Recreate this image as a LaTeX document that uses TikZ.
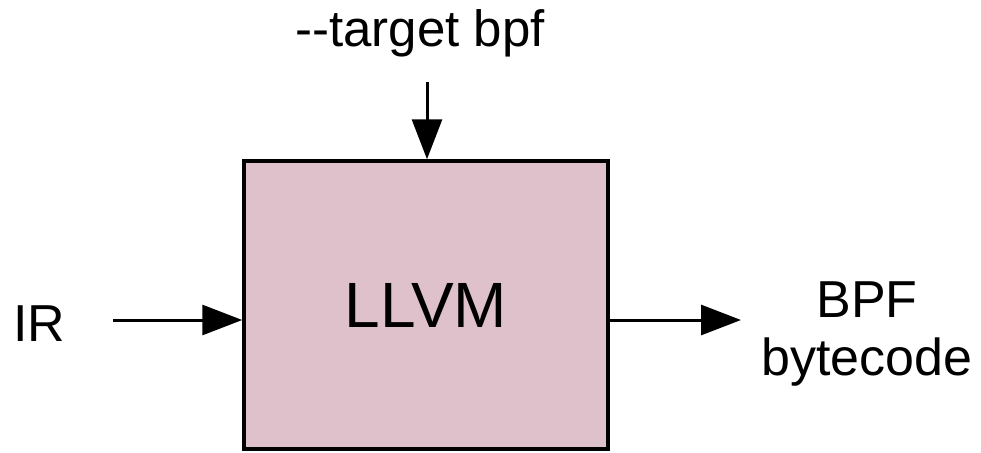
\documentclass[tikz,border=0pt]{standalone}
\usepackage{fontspec}
\setmainfont{Liberation Sans}
\usetikzlibrary{arrows.meta}
\definecolor{boxpink}{HTML}{DFC1CB}
\tikzset{
  conn/.style={line width=3pt,-{Triangle[length=40pt,width=30pt]}},
  lbl/.style={inner sep=0pt,font=\fontsize{52}{58}\selectfont,align=center}
}
\begin{document}
\begin{tikzpicture}[x=1pt,y=-1pt]
\useasboundingbox (0,0) rectangle (981,452);
\node[draw,line width=3.5pt,fill=boxpink,minimum width=364pt,minimum height=288pt,inner sep=0pt,font=\fontsize{64}{70}\selectfont] (llvm) at (426,305) {LLVM};
\node[lbl,font=\fontsize{51}{56}\selectfont,anchor=base] (tgt) at (420,46) {{-}{-}target bpf};
\node[lbl,anchor=base west] (ir) at (13,341) {IR};
\node[lbl,anchor=base] (bpf) at (867,375) {BPF\\bytecode};
\coordinate (ts) at (427,82);
\coordinate (is) at (113,320);
\coordinate (os) at (741,320);
\draw[conn] (ts) -- (ts |- llvm.north);
\draw[conn] (is) -- (llvm.west |- is);
\draw[conn] (llvm.east |- os) -- (os);
\end{tikzpicture}
\end{document}
